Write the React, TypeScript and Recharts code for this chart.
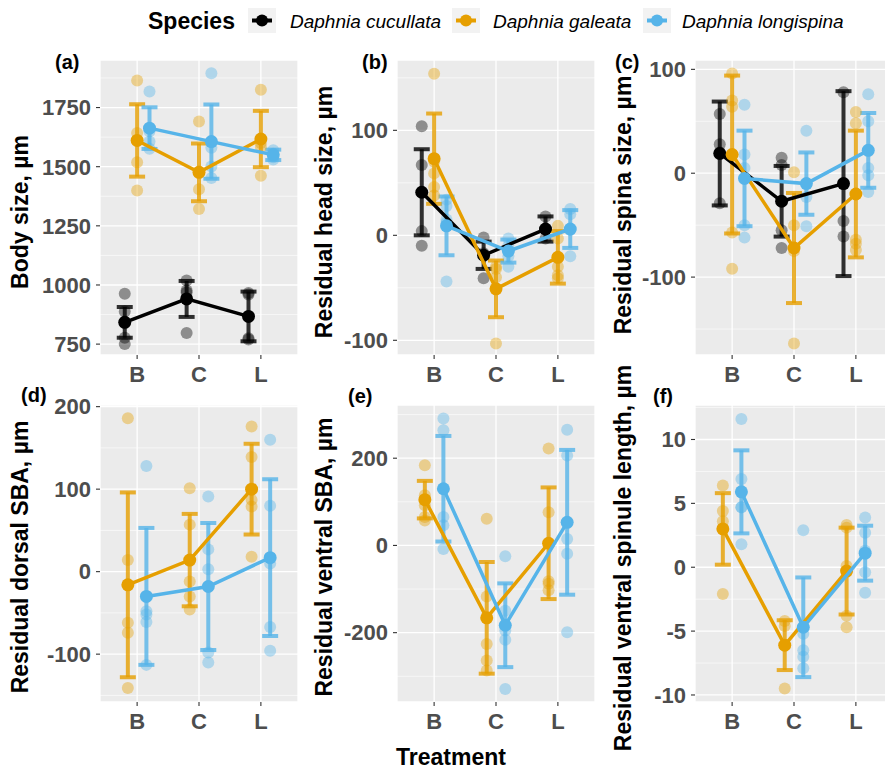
import React from 'react';
import { ScatterChart, Scatter, XAxis, YAxis, CartesianGrid, ErrorBar, ReferenceLine } from 'recharts';

const treatments = ['B', 'C', 'L'];
const speciesNames = ['Daphnia cucullata', 'Daphnia galeata', 'Daphnia longispina'];
const speciesColors = ['#000000', '#E69F00', '#56B4E9'];

// (a) body size: one row per species, one value per treatment
const bodySizeMean = [[842, 941, 867], [1611, 1476, 1617], [1663, 1606, 1550]];
const bodySizeSd = [[65, 76, 105], [153, 122, 119], [88, 157, 22]];
const bodySizeRaw = [
  [[963, 888, 842, 777, 750], [1019, 977, 968, 797], [966, 960, 775, 770]],
  [[1864, 1642, 1611, 1519, 1399], [1691, 1480, 1405, 1321], [1825, 1600, 1583, 1462]],
  [[1818, 1650, 1606, 1576], [1895, 1580, 1501, 1452], [1570, 1555, 1540, 1530]],
];

// (b) residual head size
const headMean = [[41, -19, 6], [73, -51, -21], [9, -15, 6]];
const headSd = [[41, 13, 12], [43, 27, 25], [28, 11, 18]];
const headRaw = [
  [[104, 67, 4, -10], [-2, -17, -41], [18, 6, -3]],
  [[154, 70, 59, 46, 38], [-103, -32, -40, -30], [9, -3, -30, -41, -38]],
  [[34, 28, 15, 12, -44], [-3, -10, -20, -30], [25, 20, 5, -20]],
];

// (c) residual spina size
const spinaMean = [[19, -27, -10], [18, -72, -20], [-5, -10, 22]];
const spinaSd = [[50, 34, 89], [76, 53, 61], [46, 30, 36]];
const spinaRaw = [
  [[57, 28, 20, -29], [15, 8, -55, -72], [78, -46, -61]],
  [[96, 70, 64, -57, -92], [1, -164, -50, -75], [59, 48, -64, -74, -68]],
  [[66, 18, 5, -50, -62], [41, -51, -23], [76, 50, 5, -2, -18]],
];

// (d)-(f): only galeata and longispina
const dorsalMean = [[-16, 14, 100], [-30, -18, 17]];
const dorsalSd = [[112, 56, 55], [83, 77, 95]];
const dorsalRaw = [
  [[186, 14, -62, -74, -141], [101, 57, -12, -30, -46], [176, 139, 87, 79, 18]],
  [[128, -48, -52, -61, -113], [91, 27, 3, -98, -110], [160, 80, 10, -67, -96]],
];

const ventralMean = [[105, -166, 5], [130, -183, 53]];
const ventralSd = [[43, 128, 128], [121, 96, 166]];
const ventralRaw = [
  [[184, 115, 92, 65, 57], [61, -117, -226, -264, -287], [222, 76, -82, -88, -103]],
  [[291, 264, 65, 46, -8], [-25, -150, -195, -216, -329], [265, 206, 15, -19, -199]],
];

const spinuleMean = [[3.0, -6.1, -0.3], [5.9, -4.7, 1.1]];
const spinuleSd = [[2.8, 1.95, 3.4], [3.25, 3.9, 2.15]];
const spinuleRaw = [
  [[6.4, 4.4, 3.6, 3.0, -2.1], [-4.2, -4.6, -6.1, -9.5], [3.3, 3.1, 0.1, -3.8, -4.7]],
  [[11.6, 6.9, 4.7, 4.7, 1.8], [2.9, -5.2, -6.5, -7.0, -7.9], [3.9, 2.7, 1.3, -0.4, -2.0]],
];

const FONT = '"Liberation Sans", Arial, Helvetica, sans-serif';
const PLOT_W = 198;
const Y_W = 70;
const TOP_PAD = 14;

const panels = [
  { tag: '(a)', title: 'Body size, µm', mean: bodySizeMean, sd: bodySizeSd, raw: bodySizeRaw, species: [0, 1, 2],
    domain: [704, 1951], ticks: [750, 1000, 1250, 1500, 1750], minor: [875, 1125, 1375, 1625, 1875],
    left: 100, top: 60, h: 295, tagX: 55, tagY: 69, titleX: 28, titleY: 212 },
  { tag: '(b)', title: 'Residual head size, µm', mean: headMean, sd: headSd, raw: headRaw, species: [0, 1, 2],
    domain: [-114, 167], ticks: [-100, 0, 100], minor: [-50, 50, 150],
    left: 397, top: 60, h: 295, tagX: 362, tagY: 69, titleX: 332, titleY: 212 },
  { tag: '(c)', title: 'Residual spina size, µm', mean: spinaMean, sd: spinaSd, raw: spinaRaw, species: [0, 1, 2],
    domain: [-175, 109], ticks: [-100, 0, 100], minor: [-150, -50, 50],
    left: 695, top: 60, h: 295, tagX: 615, tagY: 69, titleX: 631, titleY: 205 },
  { tag: '(d)', title: 'Residual dorsal SBA, µm', mean: dorsalMean, sd: dorsalSd, raw: dorsalRaw, species: [1, 2],
    domain: [-158, 202], ticks: [-100, 0, 100, 200], minor: [-150, -50, 50, 150],
    left: 100, top: 405, h: 297, tagX: 21, tagY: 402, titleX: 28, titleY: 557 },
  { tag: '(e)', title: 'Residual ventral SBA, µm', mean: ventralMean, sd: ventralSd, raw: ventralRaw, species: [1, 2],
    domain: [-359, 322], ticks: [-200, 0, 200], minor: [-300, -100, 100, 300],
    left: 397, top: 405, h: 297, tagX: 348, tagY: 403, titleX: 332, titleY: 557 },
  { tag: '(f)', title: 'Residual ventral spinule length, µm', mean: spinuleMean, sd: spinuleSd, raw: spinuleRaw, species: [1, 2],
    domain: [-10.55, 12.7], ticks: [-10, -5, 0, 5, 10], minor: [-7.5, -2.5, 2.5, 7.5, 12.5],
    left: 695, top: 405, h: 297, tagX: 653, tagY: 403, titleX: 631, titleY: 558 },
];

function dodge(n: number) {
  return n === 3 ? [-0.2, 0, 0.2] : [-0.15, 0.15];
}

const tickStyle = { fill: '#4D4D4D', fontSize: 22, fontWeight: 700, fontFamily: FONT };

function Panel({ p }: { p: any }) {
  const offs = dodge(p.species.length);
  const series = p.species.map((s: number, i: number) => {
    const raw: { x: number; y: number }[] = [];
    p.raw[i].forEach((vals: number[], t: number) => vals.forEach((v) => raw.push({ x: t + 1 + offs[i], y: v })));
    const means = p.mean[i].map((m: number, t: number) => ({ x: t + 1 + offs[i], y: m, err: p.sd[i][t] }));
    return { s, color: speciesColors[s], raw, means };
  });

  return (
    <div style={{ position: 'absolute', left: p.left - Y_W, top: p.top - TOP_PAD }}>
      <ScatterChart width={Y_W + PLOT_W + 5} height={p.h + TOP_PAD + 40} margin={{ top: TOP_PAD, right: 5, left: 0, bottom: 0 }}>
        <CartesianGrid fill="#EBEBEB" stroke="#FFFFFF" strokeWidth={1.3} />
        {p.minor.map((v: number) => (
          <ReferenceLine key={v} y={v} stroke="#FFFFFF" strokeWidth={0.6} />
        ))}
        <XAxis type="number" dataKey="x" domain={[0.4, 3.6]} ticks={[1, 2, 3]} allowDataOverflow
          tickFormatter={(v) => treatments[v - 1]} axisLine={false} tickLine={{ stroke: '#333333', strokeWidth: 1.1 }}
          tickSize={4} tickMargin={7} height={40} tick={tickStyle} interval={0} />
        <YAxis type="number" dataKey="y" domain={p.domain} ticks={p.ticks} allowDataOverflow width={Y_W}
          axisLine={false} tickLine={{ stroke: '#333333', strokeWidth: 1.1 }} tickSize={4} tickMargin={5}
          tick={tickStyle} interval={0} />
        {series.map((d: any) => (
          <Scatter key={'raw' + d.s} data={d.raw} isAnimationActive={false}
            shape={(q: any) => <circle cx={q.cx} cy={q.cy} r={6} fill={d.color} fillOpacity={0.4} />} />
        ))}
        {series.map((d: any) => (
          <Scatter key={'mean' + d.s} data={d.means} isAnimationActive={false} fill={d.color}
            line={{ stroke: d.color, strokeWidth: 3.5 }} lineType="joint"
            shape={(q: any) => <circle cx={q.cx} cy={q.cy} r={6.5} fill={d.color} />}>
            <ErrorBar dataKey="err" direction="y" width={8} strokeWidth={4} stroke={d.color}
              strokeOpacity={0.8} isAnimationActive={false} />
          </Scatter>
        ))}
      </ScatterChart>
    </div>
  );
}

const legendKeys = [
  { x: 248, textX: 290 },
  { x: 452, textX: 493 },
  { x: 643, textX: 682 },
];

export default function App() {
  return (
    <div style={{ position: 'absolute', left: 0, top: 0, width: 885, height: 769, overflow: 'hidden', background: '#FFFFFF' }}>
      {panels.map((p) => (
        <Panel key={p.tag} p={p} />
      ))}
      <svg width={885} height={769} style={{ position: 'absolute', left: 0, top: 0, pointerEvents: 'none' }}>
        <text x={148} y={29} fontFamily={FONT} fontSize={23} fontWeight={700} fill="#000">Species</text>
        {speciesNames.map((name, i) => {
          const k = legendKeys[i];
          return (
            <g key={name}>
              <rect x={k.x} y={8} width={28} height={25} fill="#F2F2F2" />
              <line x1={k.x + 4} x2={k.x + 24} y1={20.5} y2={20.5} stroke={speciesColors[i]} strokeWidth={4} />
              <circle cx={k.x + 14} cy={20.5} r={6} fill={speciesColors[i]} />
              <text x={k.textX} y={28} fontFamily={FONT} fontSize={19} fontStyle="italic" fill="#000">{name}</text>
            </g>
          );
        })}
        {panels.map((p) => (
          <g key={p.tag}>
            <text x={p.tagX} y={p.tagY} fontFamily={FONT} fontSize={20} fontWeight={700} fill="#000">{p.tag}</text>
            <text x={p.titleX} y={p.titleY} transform={`rotate(-90 ${p.titleX} ${p.titleY})`} textAnchor="middle"
              fontFamily={FONT} fontSize={23} fontWeight={700} fill="#000">{p.title}</text>
          </g>
        ))}
        <text x={451} y={765} textAnchor="middle" fontFamily={FONT} fontSize={23} fontWeight={700} fill="#000">Treatment</text>
      </svg>
    </div>
  );
}
